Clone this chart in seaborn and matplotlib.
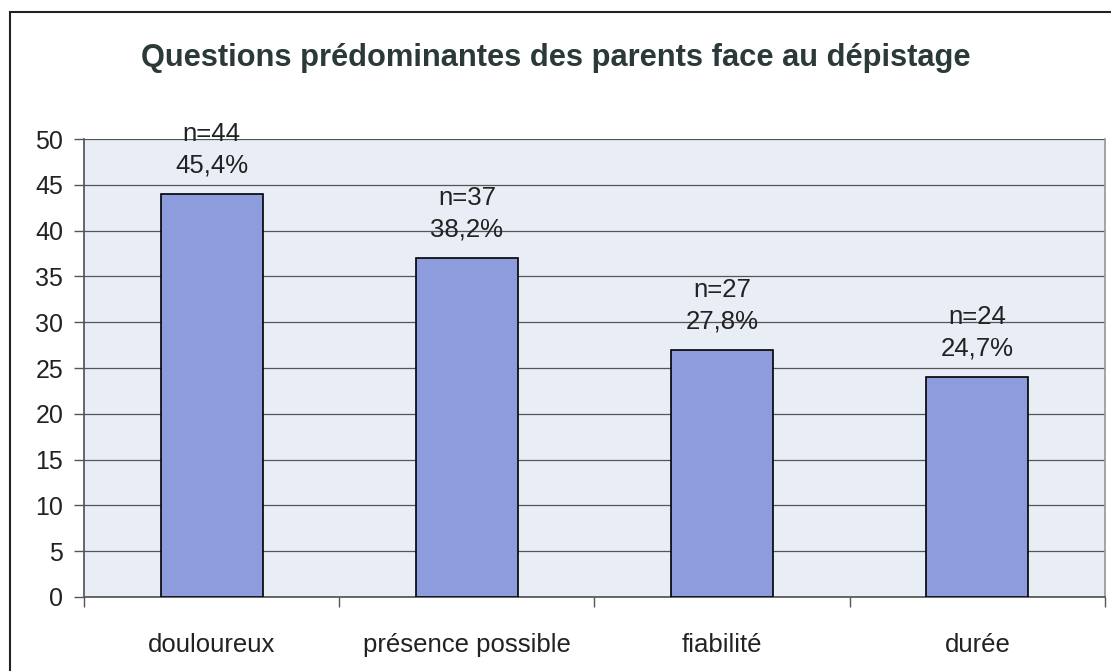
import matplotlib
matplotlib.use("Agg")
import matplotlib.pyplot as plt
from matplotlib import font_manager
import seaborn as sns
import pandas as pd
from matplotlib.patches import Rectangle

# Données
categories = ["douloureux", "présence possible", "fiabilité", "durée"]
effectifs = [44, 37, 27, 24]
pourcentages = ["45,4%", "38,2%", "27,8%", "24,7%"]
yticks = [0, 5, 10, 15, 20, 25, 30, 35, 40, 45, 50]

df = pd.DataFrame({"question": categories, "n": effectifs})

sns.set_theme(style="white")
plt.rcParams["font.family"] = ["Liberation Sans", "DejaVu Sans"]

# police grasse : éviter la variante "Narrow"
gras = None
for f in font_manager.fontManager.ttflist:
    if f.name == "Liberation Sans" and f.weight in (700, "bold") and "Narrow" not in f.fname \
            and f.style == "normal":
        gras = font_manager.FontProperties(fname=f.fname)
        break
if gras is None:
    gras = font_manager.FontProperties(family="DejaVu Sans", weight="bold")
gras.set_size(22.2)

fig = plt.figure(figsize=(11.11, 6.71), dpi=100)
ax = fig.add_axes([0.0756, 0.1103, 0.9190, 0.6825])

sns.barplot(data=df, x="question", y="n", color="#8c9cdd", saturation=1,
            width=0.4, edgecolor="black", linewidth=1.2, ax=ax, zorder=3)

ax.set_facecolor("#e9edf6")
ax.set_ylim(0, 50)
ax.set_xlim(-0.5, len(categories) - 0.5)
ax.set_yticks(yticks)
ax.set_yticklabels([str(v) for v in yticks], fontsize=18, color="#222222")
ax.yaxis.grid(True, color="#555555", linewidth=0.9, zorder=0)
ax.set_axisbelow(True)

# ticks de l'axe x entre les catégories
ax.set_xticks(range(len(categories)))
ax.set_xticklabels(categories, fontsize=18.5, color="#222222")
ax.tick_params(axis="x", length=0, pad=26)
ax.set_xticks([i - 0.5 for i in range(len(categories) + 1)], minor=True)
ax.tick_params(axis="x", which="minor", length=7, width=1, color="#555555",
               direction="out", bottom=True)
ax.tick_params(axis="y", length=7, width=1, color="#555555", left=True,
               direction="out", pad=8)

ax.spines["top"].set_visible(False)
ax.spines["bottom"].set_color("#555555")
ax.spines["right"].set_color("#999999")
ax.spines["left"].set_color("#555555")

ax.set_xlabel("")
ax.set_ylabel("")

for i, (n, p) in enumerate(zip(effectifs, pourcentages)):
    ax.text(i, n + 1.8, "n=" + str(n) + "\n" + p, ha="center", va="bottom",
            fontsize=18.5, color="#222222", linespacing=1.38)

fig.text(0.5, 0.9136, "Questions prédominantes des parents face au dépistage",
         ha="center", va="center", fontproperties=gras, color="#2b3a38")

# cadre extérieur
fig.patches.append(Rectangle((0.009, -0.01), 1.2, 0.992, transform=fig.transFigure,
                             fill=False, edgecolor="#222222", linewidth=1.5))

fig.savefig("out.png", dpi=100)
